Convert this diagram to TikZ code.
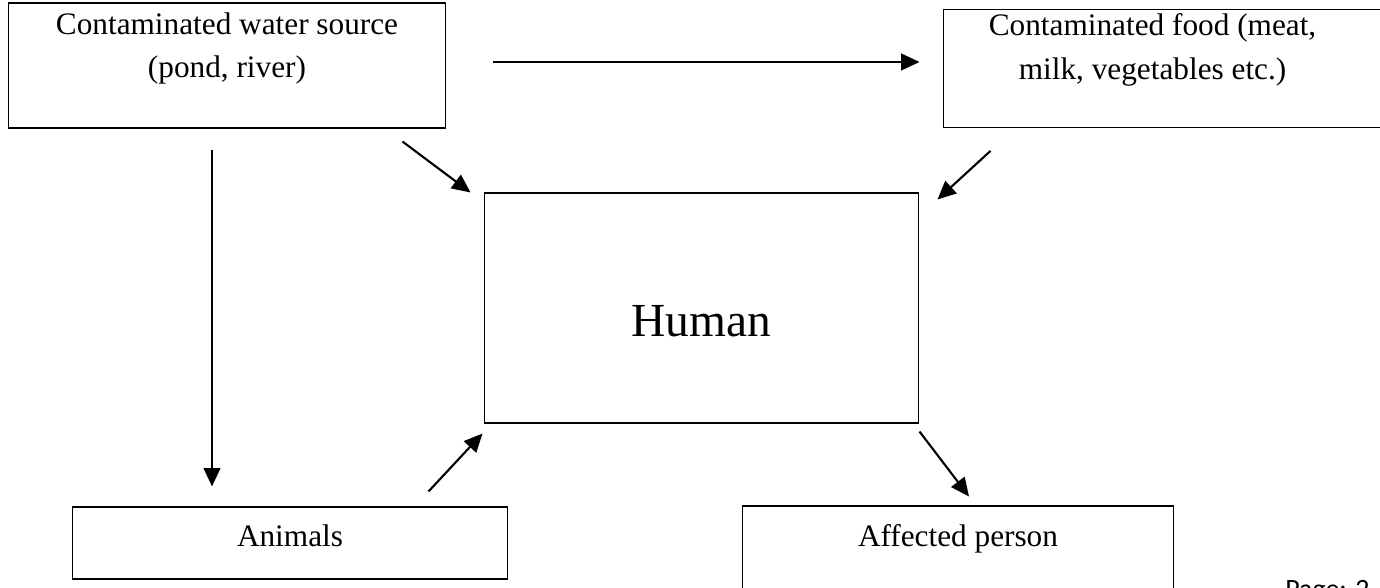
\documentclass[tikz,border=0pt]{standalone}
\usepackage{fontspec}
\setmainfont{Liberation Serif}
\newfontfamily\pagefont{Carlito}
\usetikzlibrary{arrows.meta}

\begin{document}
\begin{tikzpicture}[x=0.02cm, y=-0.02cm,
    box/.style={draw, line width=0.6pt, rectangle, align=center, inner sep=0pt,
      font=\fontsize{17.8}{25}\selectfont},
    flow/.style={line width=1.2pt, -{Triangle[length=10.5pt, width=9.5pt]}}]
  \useasboundingbox (0,0) rectangle (1380,588);

  % Sources
  \node[box, minimum width=8.76cm, minimum height=2.5cm, text height=40pt, text depth=25.8pt]
    (water) at (227,65.5) {Contaminated water source\\(pond, river)};
  \node[box, minimum width=8.94cm, minimum height=2.34cm, text height=40pt, text depth=27pt]
    (food) at (1166.5,68.5) {\hspace*{-15.9pt}Contaminated food (meat,\\\hspace*{-15.9pt}milk, vegetables etc.)};

  % Host
  \node[box, minimum width=8.7cm, minimum height=4.6cm, text height=40pt, text depth=7.1pt,
    font=\fontsize{27}{32}\selectfont] (human) at (701.5,308) {Human};

  % Bottom row
  \node[box, minimum width=8.72cm, minimum height=1.44cm, text height=10pt, text depth=5.5pt]
    (animals) at (290,543) {Animals};
  \node[box, minimum width=8.64cm, minimum height=2.28cm, text height=10pt, text depth=29.3pt]
    (affected) at (958,563) {Affected person};

  \node[anchor=base west, inner sep=0pt, font=\pagefont\fontsize{15.9}{19}\selectfont]
    (page) at (1285,598) {Page: 2};

  % Arrows
  \draw[flow] ([shift={(47,-3.5)}]water.east) -- ([shift={(-23,-6.5)}]food.west);
  \draw[flow] ([shift={(-15,21)}]water.south) -- ([shift={(-78,-20)}]animals.north);
  \draw[flow] ([shift={(-44,13)}]water.south east) -- ([shift={(-13,0)}]human.north west);
  \draw[flow] ([shift={(48,23)}]food.south west) -- ([shift={(18,7)}]human.north east);
  \draw[flow] ([shift={(-80,-15)}]animals.north east) -- ([shift={(-1,10)}]human.south west);
  \draw[flow] ([shift={(0,8)}]human.south east) -- ([shift={(11,-9)}]affected.north);
\end{tikzpicture}
\end{document}
